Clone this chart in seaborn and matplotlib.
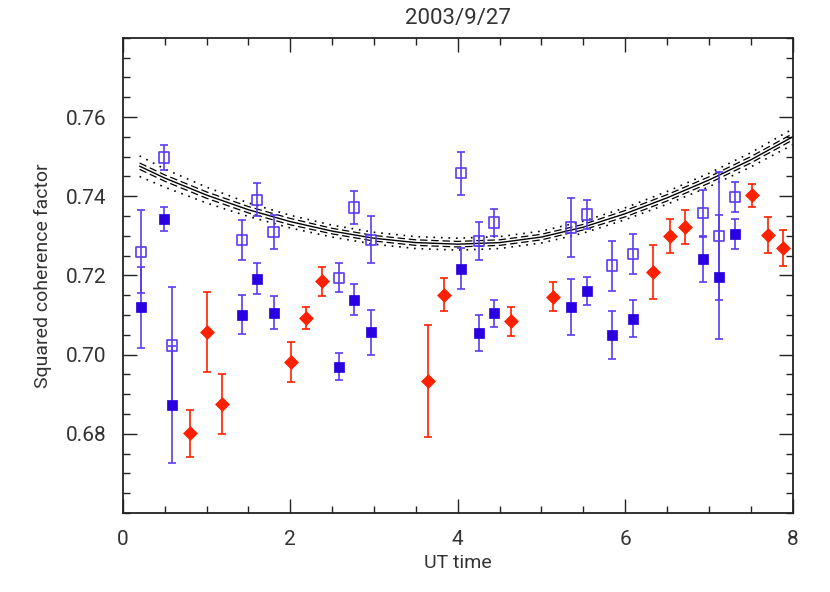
import numpy as np
import pandas as pd
import seaborn as sns
import matplotlib.pyplot as plt
from matplotlib.ticker import MultipleLocator

sns.set_style("ticks")
plt.rcParams['font.family'] = ['Roboto', 'DejaVu Sans']

# open blue squares
open_x = [0.22, 0.49, 0.59, 1.42, 1.60, 1.80, 2.58, 2.76, 2.96, 4.04,
          4.25, 4.43, 5.35, 5.54, 5.84, 6.09, 6.93, 7.12, 7.31]
open_y = [0.7260, 0.7498, 0.7023, 0.7289, 0.7391, 0.7310, 0.7194, 0.7372, 0.7290, 0.7458,
          0.7287, 0.7334, 0.7321, 0.7354, 0.7225, 0.7254, 0.7357, 0.7300, 0.7399]
open_err = [0.0105, 0.0032, 0.0149, 0.0050, 0.0042, 0.0043, 0.0037, 0.0042, 0.0059, 0.0054,
            0.0047, 0.0035, 0.0074, 0.0037, 0.0063, 0.0050, 0.0060, 0.0161, 0.0038]

# filled blue squares
fill_x = open_x
fill_y = [0.7120, 0.7343, 0.6874, 0.7101, 0.7192, 0.7106, 0.6970, 0.7139, 0.7056, 0.7217,
          0.7054, 0.7104, 0.7121, 0.7161, 0.7050, 0.7091, 0.7241, 0.7196, 0.7304]
fill_err = [0.0102, 0.0030, 0.0147, 0.0049, 0.0040, 0.0041, 0.0035, 0.0040, 0.0057, 0.0052,
            0.0045, 0.0033, 0.0071, 0.0035, 0.0061, 0.0047, 0.0058, 0.0157, 0.0038]

# red diamonds
red_x = [0.80, 1.01, 1.19, 2.01, 2.19, 2.38, 3.64, 3.83, 4.64, 5.14,
         6.33, 6.53, 6.72, 7.51, 7.70, 7.88]
red_y = [0.6801, 0.7057, 0.6875, 0.6982, 0.7092, 0.7185, 0.6933, 0.7151, 0.7084, 0.7146,
         0.7209, 0.7300, 0.7323, 0.7403, 0.7302, 0.7270]
red_err = [0.0060, 0.0100, 0.0075, 0.0051, 0.0028, 0.0036, 0.0142, 0.0042, 0.0036, 0.0037,
           0.0069, 0.0043, 0.0043, 0.0029, 0.0045, 0.0045]

# fitted curve with its bands
fit_x = [0.2, 0.5, 1.0, 1.5, 2.0, 2.5, 3.0, 3.5, 4.0, 4.5, 5.0, 5.5, 6.0, 6.5, 7.0, 7.5, 8.0]
fit_y = [0.7476, 0.7446, 0.7403, 0.7366, 0.7336, 0.7312, 0.7294, 0.7283, 0.7279,
         0.7283, 0.7297, 0.7322, 0.7356, 0.7396, 0.7441, 0.7492, 0.7550]
dash_w = [0.0008, 0.0008, 0.0008, 0.0008, 0.0008, 0.0007, 0.0007, 0.0007, 0.0007,
          0.0007, 0.0007, 0.0007, 0.0008, 0.0008, 0.0008, 0.0008, 0.0008]
dot_w = [0.0026, 0.0023, 0.0020, 0.0017, 0.0016, 0.0015, 0.0015, 0.0015, 0.0015,
         0.0015, 0.0015, 0.0015, 0.0015, 0.0016, 0.0017, 0.0018, 0.0020]

blue = "#2b00e0"
blue_light = "#5a3cf0"
red = "#ff2000"
ink = "#333333"

fig = plt.figure(figsize=(8.3, 5.92), dpi=100)
ax = fig.add_axes([0.148, 0.1334, 0.807, 0.8026])

fit = pd.DataFrame({"x": fit_x, "y": fit_y, "dw": dash_w, "tw": dot_w})
sns.lineplot(data=fit, x="x", y="y", color="black", lw=1.0, ax=ax)
for s in (1, -1):
    ax.plot(fit["x"], fit["y"] + s * fit["dw"], color="black", lw=0.9, ls=(0, (6, 3)))
    ax.plot(fit["x"], fit["y"] + s * fit["tw"], color="black", lw=1.2, ls=(0, (1, 3.5)))

ax.errorbar(open_x, open_y, yerr=open_err, fmt="none", ecolor=blue_light, elinewidth=1.2,
            capsize=3, capthick=1.2)
ax.errorbar(fill_x, fill_y, yerr=fill_err, fmt="none", ecolor=blue_light, elinewidth=1.2,
            capsize=3, capthick=1.2)
ax.errorbar(red_x, red_y, yerr=red_err, fmt="none", ecolor=red, elinewidth=1.2,
            capsize=3, capthick=1.2)

sns.scatterplot(x=open_x, y=open_y, marker="s", s=55, facecolor="none",
                edgecolor=blue_light, linewidth=1.2, ax=ax, zorder=5)
sns.scatterplot(x=fill_x, y=fill_y, marker="s", s=45, color=blue,
                edgecolor=blue, linewidth=0.5, ax=ax, zorder=5)
sns.scatterplot(x=red_x, y=red_y, marker="D", s=50, color=red,
                edgecolor=red, linewidth=0.5, ax=ax, zorder=5)

ax.set_xlim(0, 8)
ax.set_ylim(0.66, 0.78)
ax.set_xticks([0, 2, 4, 6, 8])
ax.set_yticks([0.68, 0.70, 0.72, 0.74, 0.76])
ax.set_yticklabels(["0.68", "0.70", "0.72", "0.74", "0.76"])
ax.xaxis.set_minor_locator(MultipleLocator(0.5))
ax.yaxis.set_minor_locator(MultipleLocator(0.005))
ax.tick_params(which="both", direction="in", top=True, right=True, colors="#222222",
               labelcolor=ink, labelsize=15, width=1.0)
ax.tick_params(which="major", length=10, pad=12)
ax.tick_params(which="minor", length=5)
for sp in ax.spines.values():
    sp.set_linewidth(1.3)
    sp.set_color("#222222")

ax.set_xlabel("UT time", fontsize=14, color=ink, labelpad=4)
ax.set_ylabel("Squared coherence factor", fontsize=14, color=ink, labelpad=10)
ax.set_title("2003/9/27", fontsize=16, color=ink, pad=10)

fig.savefig("out.png", dpi=100)
